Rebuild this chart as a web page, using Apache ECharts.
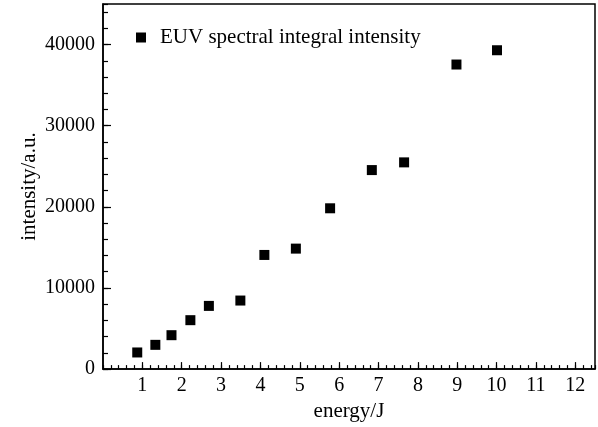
<!DOCTYPE html>
<html>
<head>
<meta charset="utf-8">
<script src="https://cdn.jsdelivr.net/npm/echarts@6/dist/echarts.min.js"></script>
<style>
html, body { margin: 0; padding: 0; background: #fff; }
#main { width: 598px; height: 427px; }
</style>
</head>
<body>
<div id="main"></div>
<script>
// 数据
var energy = [0.87, 1.33, 1.74, 2.22, 2.69, 3.49, 4.10, 4.90, 5.77, 6.83, 7.65, 8.98, 10.01];
var intensity = [2050, 2990, 4180, 6030, 7790, 8450, 14070, 14850, 19820, 24530, 25480, 37540, 39300];
var seriesName = 'EUV spectral integral intensity';

var points = [];
for (var i = 0; i < energy.length; i++) {
	points.push([energy[i], intensity[i]]);
}

var font = 'Liberation Serif';
var chart = echarts.init(document.getElementById('main'));

var option = {
	animation: false,
	backgroundColor: '#fff',
	grid: {
		left: 103, right: 3, top: 4, bottom: 57,
		show: true, borderColor: '#000', borderWidth: 1.5
	},
	legend: {
		left: 131, top: 22,
		icon: 'rect', itemWidth: 10, itemHeight: 10, itemGap: 0,
		itemStyle: { color: '#000', opacity: 1 },
		textStyle: { fontFamily: font, fontSize: 21, color: '#000', padding: [0, 0, 0, 9] },
		data: [seriesName]
	},
	xAxis: [{
		type: 'value', min: 0, max: 12.5, interval: 1,
		name: 'energy/J', nameLocation: 'middle', nameGap: 29,
		nameTextStyle: { fontFamily: font, fontSize: 21, color: '#000' },
		splitLine: { show: false },
		axisLine: { lineStyle: { color: '#000', width: 1.5 } },
		axisTick: { inside: true, length: 7, lineStyle: { color: '#000', width: 1.2 } },
		axisLabel: {
			fontFamily: font, fontSize: 20, color: '#000', margin: 7,
			showMinLabel: false, showMaxLabel: false
		}
	}, {
		// 小刻度
		type: 'value', min: 0, max: 12.5, interval: 0.2, position: 'bottom',
		splitLine: { show: false }, axisLine: { show: false }, axisLabel: { show: false },
		axisTick: { inside: true, length: 4, lineStyle: { color: '#000', width: 1.2 } }
	}],
	yAxis: [{
		type: 'value', min: 0, max: 45000, interval: 10000,
		name: 'intensity/a.u.', nameLocation: 'middle', nameGap: 63,
		nameMoveOverlap: false,
		nameTextStyle: { fontFamily: font, fontSize: 21, color: '#000' },
		splitLine: { show: false },
		axisLine: { show: true, lineStyle: { color: '#000', width: 1.5 } },
		axisTick: { inside: true, length: 8, lineStyle: { color: '#000', width: 1.2 } },
		axisLabel: {
			fontFamily: font, fontSize: 20, color: '#000', margin: 8,
			showMaxLabel: false,
			formatter: function (v) { return String(v); }
		}
	}, {
		// 小刻度
		type: 'value', min: 0, max: 45000, interval: 2000, position: 'left',
		splitLine: { show: false }, axisLine: { show: false }, axisLabel: { show: false },
		axisTick: { inside: true, length: 5, lineStyle: { color: '#000', width: 1.2 } }
	}],
	series: [{
		name: seriesName,
		type: 'scatter',
		xAxisIndex: 0, yAxisIndex: 0,
		symbol: 'rect', symbolSize: 10,
		itemStyle: { color: '#000', opacity: 1 },
		data: points
	}]
};

chart.setOption(option);
</script>
</body>
</html>
